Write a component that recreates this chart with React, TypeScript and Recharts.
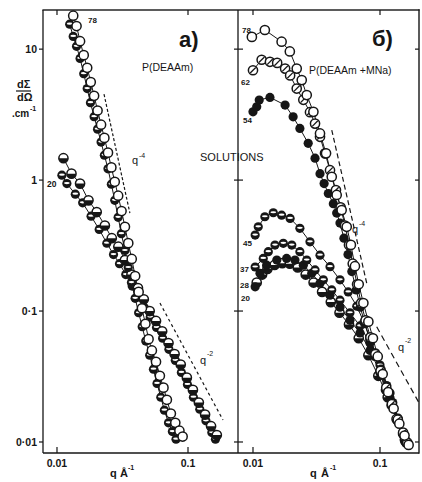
import React from 'react';
import { LineChart, Line, XAxis, YAxis } from 'recharts';

// a) P(DEAAm), 78 - open circles
const qA78open = [0.0133, 0.0141, 0.015, 0.016, 0.017, 0.0181, 0.0192, 0.0204, 0.0217, 0.023, 0.0245, 0.026, 0.0276, 0.0293, 0.0311, 0.033, 0.035, 0.0372, 0.0395, 0.042, 0.0445, 0.0473, 0.05, 0.053, 0.057, 0.061, 0.065, 0.069, 0.074, 0.08, 0.086, 0.091];
const vA78open = [18, 15, 11.5, 9.0, 7.2, 5.6, 4.4, 3.4, 2.65, 2.1, 1.62, 1.25, 0.97, 0.76, 0.58, 0.44, 0.33, 0.25, 0.185, 0.14, 0.105, 0.08, 0.061, 0.05, 0.041, 0.032, 0.026, 0.021, 0.0165, 0.014, 0.0122, 0.011];
// a) 78 - half filled
const qA78half = [0.0125, 0.0133, 0.0141, 0.015, 0.016, 0.017, 0.018, 0.0192, 0.0204, 0.0217, 0.023, 0.0245, 0.026, 0.0276, 0.0293, 0.031, 0.033, 0.035, 0.037, 0.0395, 0.042, 0.0447, 0.0476, 0.051, 0.0545, 0.058, 0.062, 0.066, 0.071, 0.076, 0.081];
const vA78half = [15.5, 12.5, 10.5, 8.5, 6.5, 5.0, 3.9, 3.05, 2.45, 1.95, 1.55, 1.22, 0.93, 0.7, 0.52, 0.39, 0.29, 0.215, 0.165, 0.125, 0.097, 0.076, 0.059, 0.046, 0.036, 0.028, 0.022, 0.0175, 0.014, 0.012, 0.0105];
// a) 20 - upper
const qA20up = [0.0112, 0.0129, 0.015, 0.0174, 0.0201, 0.0232, 0.0262, 0.0294, 0.033, 0.037, 0.0415, 0.046, 0.051, 0.057, 0.0635, 0.071, 0.079, 0.088, 0.098, 0.109, 0.121, 0.135, 0.15, 0.166];
const vA20up = [1.47, 1.12, 0.94, 0.7, 0.57, 0.45, 0.36, 0.31, 0.245, 0.19, 0.15, 0.123, 0.1, 0.084, 0.07, 0.057, 0.047, 0.039, 0.031, 0.025, 0.02, 0.0162, 0.0132, 0.0113];
// a) 20 - lower
const qA20low = [0.0109, 0.0119, 0.0138, 0.0157, 0.0182, 0.021, 0.024, 0.027, 0.03, 0.0335, 0.0375, 0.042, 0.0465, 0.0515, 0.0575, 0.064, 0.0715, 0.08, 0.089, 0.099, 0.11, 0.123, 0.137, 0.152, 0.162];
const vA20low = [1.09, 0.94, 0.78, 0.67, 0.53, 0.42, 0.33, 0.27, 0.23, 0.19, 0.155, 0.128, 0.106, 0.09, 0.075, 0.062, 0.051, 0.042, 0.034, 0.0275, 0.022, 0.0178, 0.0145, 0.0118, 0.0105];

// б) P(DEAAm+MNa)
const qB78 = [0.0098, 0.0124, 0.0168, 0.0195, 0.0221, 0.0242, 0.0265, 0.0299, 0.0337, 0.0376, 0.0417, 0.0456, 0.0499, 0.0547, 0.059, 0.0635, 0.068, 0.074, 0.081, 0.088, 0.096, 0.105, 0.116, 0.128, 0.142, 0.156, 0.168];
const vB78 = [12.4, 14.0, 11.4, 9.6, 7.1, 5.8, 4.46, 3.32, 2.27, 1.6, 1.06, 0.77, 0.59, 0.44, 0.32, 0.22, 0.16, 0.115, 0.083, 0.062, 0.045, 0.033, 0.024, 0.018, 0.0138, 0.0112, 0.0095];
const qB62 = [0.01, 0.0117, 0.0136, 0.0155, 0.0179, 0.0196, 0.0221, 0.0249, 0.0281, 0.0308, 0.0337, 0.0369, 0.0404, 0.045, 0.049, 0.053, 0.057, 0.061, 0.066, 0.071, 0.077, 0.084, 0.092, 0.101, 0.112, 0.124, 0.138, 0.152, 0.164];
const vB62 = [6.9, 8.3, 8.0, 7.85, 7.1, 6.3, 5.0, 4.1, 3.3, 2.7, 2.14, 1.6, 1.19, 0.84, 0.62, 0.45, 0.32, 0.23, 0.16, 0.115, 0.085, 0.063, 0.047, 0.035, 0.026, 0.0195, 0.0148, 0.0118, 0.0099];
const qB54 = [0.01, 0.0107, 0.0112, 0.0136, 0.0179, 0.0207, 0.0234, 0.0272, 0.0308, 0.0337, 0.0363, 0.0392, 0.0429, 0.0456, 0.0484, 0.052, 0.056, 0.06, 0.065, 0.07, 0.076, 0.083, 0.091, 0.1, 0.11, 0.122, 0.136, 0.15, 0.162];
const vB54 = [3.32, 3.63, 4.09, 4.28, 3.74, 3.04, 2.48, 1.91, 1.47, 1.12, 0.94, 0.79, 0.66, 0.56, 0.47, 0.36, 0.27, 0.2, 0.145, 0.107, 0.08, 0.06, 0.045, 0.034, 0.025, 0.019, 0.0145, 0.0115, 0.0098];
const qB45 = [0.0104, 0.011, 0.0124, 0.01445, 0.0168, 0.0196, 0.0234, 0.0281, 0.0337, 0.0404, 0.0484, 0.0562, 0.0656, 0.0748, 0.083, 0.092, 0.102, 0.113, 0.126, 0.14, 0.156];
const vB45 = [0.38, 0.44, 0.525, 0.563, 0.54, 0.51, 0.428, 0.338, 0.267, 0.218, 0.173, 0.14, 0.109, 0.082, 0.063, 0.048, 0.036, 0.027, 0.02, 0.0148, 0.0112];
const qB37 = [0.0104, 0.01205, 0.0132, 0.0149, 0.01733, 0.0202, 0.0234, 0.0265, 0.0308, 0.0358, 0.0417, 0.0484, 0.058, 0.0696, 0.0834, 0.1, 0.12, 0.139, 0.155];
const vB37 = [0.217, 0.252, 0.284, 0.319, 0.329, 0.319, 0.284, 0.245, 0.206, 0.173, 0.145, 0.121, 0.097, 0.077, 0.057, 0.0387, 0.0237, 0.0152, 0.0104];
const qB28 = [0.0104, 0.01135, 0.0128, 0.0154, 0.0184, 0.0214, 0.0249, 0.029, 0.0337, 0.0404, 0.0484, 0.058, 0.0696, 0.0834, 0.1, 0.12, 0.139, 0.16];
const vB28 = [0.153, 0.194, 0.224, 0.245, 0.252, 0.245, 0.224, 0.194, 0.163, 0.132, 0.107, 0.085, 0.068, 0.05, 0.034, 0.0217, 0.0142, 0.0098];
const qB20 = [0.0107, 0.0118, 0.013, 0.0148, 0.017, 0.0195, 0.0225, 0.026, 0.03, 0.035, 0.041, 0.048, 0.057, 0.068, 0.081, 0.097, 0.115, 0.135, 0.158];
const vB20 = [0.165, 0.19, 0.21, 0.225, 0.232, 0.23, 0.215, 0.19, 0.165, 0.14, 0.117, 0.097, 0.079, 0.062, 0.046, 0.032, 0.022, 0.015, 0.0102];

// slope guides
const qGuideA4 = [0.02285, 0.036];
const vGuideA4 = [4.53, 0.56];
const qGuideA2 = [0.0611, 0.185];
const vGuideA2 = [0.115, 0.0147];
const qGuideB4 = [0.0417, 0.0786];
const vGuideB4 = [2.41, 0.163];
const qGuideB2 = [0.0942, 0.2028];
const vGuideB2 = [0.0759, 0.0199];

const xTicks = [0.01, 0.1];
const xTickLabels = ['0.01', '0.1'];
const yTicks = [0.01, 0.1, 1, 10];
const yTickLabels = ['0·01', '0·1', '1', '10'];

const Y_DOMAIN = [0.00824, 19.9];
const X_DOMAIN_A = [0.00782, 0.2408];
const X_DOMAIN_B = [0.00762, 0.2028];

// plot boxes (page pixels)
const TOP = 10;
const BOTTOM = 453;
const A_LEFT = 43;
const MID = 238;
const B_RIGHT = 419;

const pts = (q: number[], v: number[]) => q.map((x, i) => ({ q: x, v: v[i] }));
const fmtX = (t: number) => xTickLabels[xTicks.indexOf(t)] ?? '';
const fmtY = (t: number) => yTickLabels[yTicks.indexOf(t)] ?? '';
const logPos = (v: number, d: number[], a: number, b: number) =>
  a + ((Math.log10(v) - Math.log10(d[0])) / (Math.log10(d[1]) - Math.log10(d[0]))) * (b - a);

const INK = '#161616';
const FONT = '"Liberation Sans", Arial, sans-serif';
const axisLine = { stroke: INK, strokeWidth: 1.3 };
const tickLine = { stroke: INK, strokeWidth: 1.2 };
const tickText = { fill: INK, fontSize: 10.5, fontWeight: 'bold', fontFamily: FONT };

type Kind = 'open' | 'filled' | 'half' | 'band' | 'slash';
const R = 4.6;
const marker = (kind: Kind) => (p: any) => {
  const { cx, cy, index } = p;
  const k = `m${index}`;
  if (cx == null || cy == null) return <g key={k} />;
  if (kind === 'filled') return <circle key={k} cx={cx} cy={cy} r={R} fill={INK} />;
  if (kind === 'open') return <circle key={k} cx={cx} cy={cy} r={R} fill="#fff" stroke={INK} strokeWidth={1.5} />;
  if (kind === 'half')
    return (
      <g key={k}>
        <circle cx={cx} cy={cy} r={R} fill="#fff" stroke={INK} strokeWidth={1.5} />
        <path d={`M${cx - R},${cy} A${R},${R} 0 0 0 ${cx + R},${cy} Z`} fill={INK} />
      </g>
    );
  if (kind === 'band')
    return (
      <g key={k}>
        <circle cx={cx} cy={cy} r={R} fill={INK} />
        <ellipse cx={cx} cy={cy - 0.5} rx={2.9} ry={1.1} fill="#fff" />
      </g>
    );
  return (
    <g key={k}>
      <circle cx={cx} cy={cy} r={R} fill="#fff" stroke={INK} strokeWidth={1.5} />
      <line x1={cx - 2.8} y1={cy + 2.8} x2={cx + 2.8} y2={cy - 2.8} stroke={INK} strokeWidth={1.3} />
    </g>
  );
};

const series = (key: string, data: { q: number; v: number }[], kind: Kind) => (
  <Line key={key} data={data} dataKey="v" stroke={INK} strokeWidth={1} dot={marker(kind)} isAnimationActive={false} />
);

const guide = (key: string, data: { q: number; v: number }[], dash: string) => (
  <Line key={key} data={data} dataKey="v" stroke={INK} strokeWidth={1.2} strokeDasharray={dash} dot={false} isAnimationActive={false} />
);

const txt = { fontFamily: FONT, fill: INK } as const;

// frame borders and inward ticks, drawn as thin filled bars
const bar = (key: string, x: number, y: number, w: number, h: number) => (
  <rect key={key} x={x} y={y} width={w} height={h} fill={INK} />
);
const frameParts = () => {
  const xa = xTicks.map((t) => logPos(t, X_DOMAIN_A, A_LEFT, MID));
  const xb = xTicks.map((t) => logPos(t, X_DOMAIN_B, MID, B_RIGHT));
  const ys = yTicks.map((t) => logPos(t, Y_DOMAIN, BOTTOM, TOP));
  const out: React.ReactElement[] = [];
  out.push(bar('top', A_LEFT - 0.6, TOP - 0.7, B_RIGHT - A_LEFT + 1.2, 1.4));
  out.push(bar('right', B_RIGHT - 0.7, TOP - 0.7, 1.4, BOTTOM - TOP + 1.4));
  [...xa, ...xb].forEach((x, i) => {
    out.push(bar(`xt${i}`, x - 0.6, TOP, 1.2, 5));
    out.push(bar(`xb${i}`, x - 0.6, BOTTOM - 6, 1.2, 6));
  });
  ys.forEach((y, i) => {
    out.push(bar(`ym${i}`, MID - 4, y - 0.6, 9, 1.2));
    out.push(bar(`yr${i}`, B_RIGHT - 4, y - 0.6, 4, 1.2));
  });
  return out;
};

const App: React.FC = () => {
  return (
    <div style={{ position: 'fixed', left: 0, top: 0, width: 422, height: 482, background: '#fff', overflow: 'hidden' }}>
      <div style={{ position: 'absolute', left: 0, top: 0 }}>
        <LineChart width={240} height={482} margin={{ top: TOP, right: 240 - MID, bottom: 0, left: 0 }}>
          <XAxis dataKey="q" type="number" scale="log" domain={X_DOMAIN_A} allowDataOverflow ticks={xTicks} interval={0} tickFormatter={fmtX} tickLine={false} tickSize={5} tickMargin={2} height={482 - BOTTOM} axisLine={axisLine} tick={tickText} />
          <YAxis type="number" scale="log" domain={Y_DOMAIN} allowDataOverflow ticks={yTicks} interval={0} tickFormatter={fmtY} width={A_LEFT} tickSize={4} tickMargin={2} axisLine={axisLine} tickLine={tickLine} tick={tickText} />
          {guide('ga4', pts(qGuideA4, vGuideA4), '3 2')}
          {guide('ga2', pts(qGuideA2, vGuideA2), '3 3')}
          {series('a20low', pts(qA20low, vA20low), 'band')}
          {series('a20up', pts(qA20up, vA20up), 'half')}
          {series('a78half', pts(qA78half, vA78half), 'band')}
          {series('a78open', pts(qA78open, vA78open), 'open')}
        </LineChart>
      </div>
      <div style={{ position: 'absolute', left: 236, top: 0 }}>
        <LineChart width={186} height={482} margin={{ top: TOP, right: 422 - B_RIGHT, bottom: 0, left: MID - 236 }}>
          <XAxis dataKey="q" type="number" scale="log" domain={X_DOMAIN_B} allowDataOverflow ticks={xTicks} interval={0} tickFormatter={fmtX} tickLine={false} tickSize={5} tickMargin={2} height={482 - BOTTOM} axisLine={axisLine} tick={tickText} />
          <YAxis type="number" scale="log" domain={Y_DOMAIN} allowDataOverflow ticks={yTicks} mirror tick={false} tickLine={false} axisLine={axisLine} />
          {guide('gb4', pts(qGuideB4, vGuideB4), '5 3')}
          {guide('gb2', pts(qGuideB2, vGuideB2), '6 4')}
          {series('b20', pts(qB20, vB20), 'half')}
          {series('b28', pts(qB28, vB28), 'filled')}
          {series('b37', pts(qB37, vB37), 'band')}
          {series('b45', pts(qB45, vB45), 'band')}
          {series('b54', pts(qB54, vB54), 'filled')}
          {series('b62', pts(qB62, vB62), 'slash')}
          {series('b78', pts(qB78, vB78), 'open')}
        </LineChart>
      </div>
      <svg width={422} height={482} style={{ position: 'absolute', left: 0, top: 0, pointerEvents: 'none' }}>
        {frameParts()}
        {/* y axis title */}
        <text x={17} y={88} fontSize={11} fontWeight="bold" {...txt}>dΣ</text>
        {bar('frac', 16, 90.4, 15, 1.2)}
        <text x={17} y={101} fontSize={11} fontWeight="bold" {...txt}>dΩ</text>
        <text x={12} y={117} fontSize={10} fontWeight="bold" {...txt}>.cm</text>
        <text x={30} y={111} fontSize={7} fontWeight="bold" {...txt}>-1</text>
        {/* x axis titles */}
        <text x={110} y={477} fontSize={11} fontWeight="bold" {...txt}>q</text>
        <text x={120} y={477} fontSize={11} fontWeight="bold" {...txt}>Å</text>
        <text x={128} y={470} fontSize={7} fontWeight="bold" {...txt}>-1</text>
        <text x={310} y={477} fontSize={11} fontWeight="bold" {...txt}>q</text>
        <text x={321} y={477} fontSize={11} fontWeight="bold" {...txt}>Å</text>
        <text x={330} y={470} fontSize={7} fontWeight="bold" {...txt}>-1</text>
        {/* panel a */}
        <text x={179} y={47} fontSize={22} fontWeight="bold" {...txt}>a)</text>
        <text x={142} y={71} fontSize={10.5} {...txt}>P(DEAAm)</text>
        <text x={88} y={23} fontSize={8} fontWeight="bold" {...txt}>78</text>
        <text x={47} y={187} fontSize={8.5} fontWeight="bold" {...txt}>20</text>
        <text x={132} y={164} fontSize={11} {...txt}>q</text>
        <text x={139} y={158} fontSize={7} {...txt}>-4</text>
        <text x={200} y={364} fontSize={11} {...txt}>q</text>
        <text x={207} y={356} fontSize={7} {...txt}>-2</text>
        {/* shared */}
        <text x={200} y={161} fontSize={11} {...txt}>SOLUTIONS</text>
        {/* panel б */}
        <text x={372} y={46} fontSize={22} fontWeight="bold" {...txt}>б)</text>
        <text x={309} y={74} fontSize={10.5} {...txt}>P(DEAAm +MNa)</text>
        <text x={242} y={33} fontSize={8} fontWeight="bold" {...txt}>78</text>
        <text x={241} y={85} fontSize={8} fontWeight="bold" {...txt}>62</text>
        <text x={243} y={123} fontSize={8} fontWeight="bold" {...txt}>54</text>
        <text x={243} y={246} fontSize={8} fontWeight="bold" {...txt}>45</text>
        <text x={240} y={272} fontSize={8} fontWeight="bold" {...txt}>37</text>
        <text x={240} y={288} fontSize={8} fontWeight="bold" {...txt}>28</text>
        <text x={241} y={301} fontSize={8} fontWeight="bold" {...txt}>20</text>
        <text x={352} y={233} fontSize={11} {...txt}>q</text>
        <text x={359} y={226} fontSize={7} {...txt}>-4</text>
        <text x={398} y={351} fontSize={11} {...txt}>q</text>
        <text x={405} y={343} fontSize={7} {...txt}>-2</text>
      </svg>
    </div>
  );
};

export default App;
